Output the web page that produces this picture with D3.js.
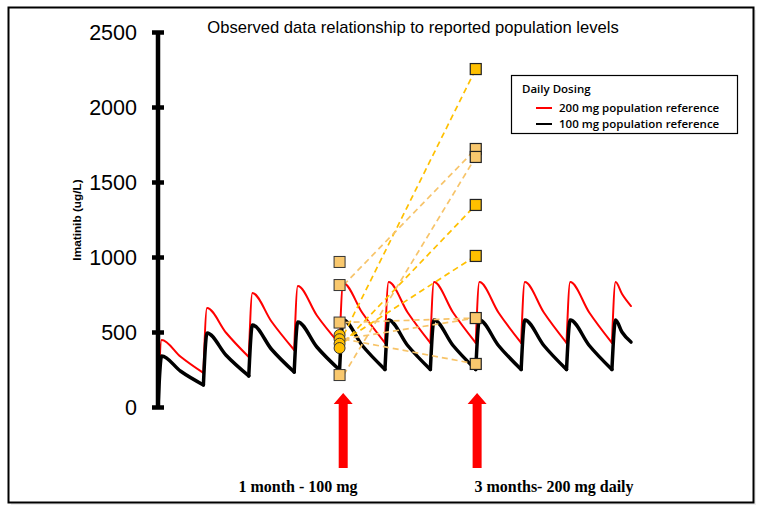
<!DOCTYPE html>
<html>
<head>
<meta charset="utf-8">
<script src="https://cdn.jsdelivr.net/npm/d3@7"></script>
<style>
  html, body { margin: 0; padding: 0; background: #fff; }
  svg { display: block; }
</style>
</head>
<body>
<svg id="chart" width="762" height="512"></svg>
<script>
// ---------------- DATA ----------------
const yTicks = [0, 500, 1000, 1500, 2000, 2500];
// dosing cycles (time in dosing-interval units)
const cycleStart = [0, 1, 2, 3, 4, 5, 6, 7, 8, 9, 10];
// 100 mg population reference (black)
const blackPeak   = [340, 493, 547, 567, 580, 580, 580, 580, 580, 580, 580];
const blackMid    = [238, 345, 385, 400, 410, 410, 410, 410, 410, 410, 500];
const blackTrough = [147, 207, 233, 247, 250, 250, 250, 250, 250, 250, 433];
// 200 mg population reference (red)
const redPeak     = [447, 660, 760, 807, 827, 833, 833, 833, 833, 833, 833];
const redMid      = [335, 495, 570, 610, 628, 630, 630, 630, 630, 630, 755];
const redTrough   = [227, 333, 380, 420, 427, 427, 427, 427, 427, 427, 673];
const endTime = 10.42;

// observed data
const visitTimes = { oneMonth: 4.0, threeMonth: 7.0 };
const oneMonthSquares = [967, 813, 563, 213];
const oneMonthCircles = [480, 452, 422, 393];
const threeMonthSquares = [2253, 1720, 1667, 1347, 1007, 593, 287];
const threeMonthTone    = ["gold", "light", "light", "gold", "gold", "light", "light"];
// patient pairs: 1 month value -> 3 month value
const pairFrom = [480, 813, 213, 427, 440, 563, 453, 453];
const pairTo   = [2253, 1720, 1667, 1347, 1007, 593, 593, 287];

const arrowTimes = [4.08, 7.03];
const arrowLabels = ["1 month - 100 mg", "3 months- 200 mg daily"];
const arrowLabelX = [298, 554];

const legendItems = ["200 mg population reference", "100 mg population reference"];
const legendColors = ["#ff0000", "#000000"];

// ---------------- CHART ----------------
const svg = d3.select("#chart");
const GOLD = "#FFC000", LIGHT = "#F9C86E";

// outer frame
svg.append("rect").attr("x", 11).attr("y", 10).attr("width", 745).attr("height", 495)
  .attr("fill", "#d9d9d9").attr("opacity", 0.5);
svg.append("rect").attr("x", 8.5).attr("y", 7.5).attr("width", 745).attr("height", 495)
  .attr("fill", "#fff").attr("stroke", "#000").attr("stroke-width", 2);

const x = d3.scaleLinear().domain([0, endTime]).range([158, 631]);
const y = d3.scaleLinear().domain([0, 2500]).range([407, 32]);

// title
svg.append("text").attr("x", 413).attr("y", 33).attr("text-anchor", "middle")
  .attr("font-family", "Liberation Sans, Arial, sans-serif").attr("font-size", 16.6)
  .text("Observed data relationship to reported population levels");

// y axis label
svg.append("text").attr("transform", "translate(81,220) rotate(-90)")
  .attr("text-anchor", "middle").attr("font-family", "Liberation Sans, Arial, sans-serif")
  .attr("font-weight", "bold").attr("font-size", 11.8).text("Imatinib  (ug/L)");

// build per-cycle curve segments
function buildCycles(peak, mid, trough) {
  return cycleStart.map((t0, i) => {
    const start = i === 0 ? 0 : trough[i - 1];
    const last = i === cycleStart.length - 1;
    const tEnd = last ? endTime : t0 + 1;
    const tMid = last ? t0 + 0.22 : t0 + 0.5;
    return [[t0, start], [t0 + 0.08, peak[i]], [tMid, mid[i]], [tEnd, trough[i]]];
  });
}
const line = d3.line().x(d => x(d[0])).y(d => y(d[1])).curve(d3.curveMonotoneX);

function drawSeries(cycles, color, width) {
  svg.append("g").selectAll("path").data(cycles).join("path")
    .attr("d", line).attr("fill", "none").attr("stroke", color).attr("stroke-width", width)
    .attr("stroke-linejoin", "round").attr("stroke-linecap", "round");
}
drawSeries(buildCycles(redPeak, redMid, redTrough), "#ff0000", 2);
drawSeries(buildCycles(blackPeak, blackMid, blackTrough), "#000", 3.5);

// y axis
const yAxis = d3.axisLeft(y).tickValues(yTicks).tickFormat(d3.format("d")).tickSize(6).tickPadding(15);
const ag = svg.append("g").attr("transform", "translate(158,0)").call(yAxis);
ag.select(".domain").attr("stroke", "#000").attr("stroke-width", 4.5)
  .attr("d", `M0,${y(2500)}V${y(0)}`);
ag.selectAll(".tick line").attr("x1", -6).attr("x2", 6).attr("stroke", "#000").attr("stroke-width", 4.5);
ag.selectAll(".tick text").attr("font-family", "Liberation Sans, Arial, sans-serif")
  .attr("font-size", 21.5).attr("fill", "#000").attr("dy", "0.36em");

// dashed connection lines
const xa = x(visitTimes.oneMonth) + 4, xb = x(visitTimes.threeMonth);
pairFrom.forEach((v0, i) => {
  const toIdx = threeMonthSquares.indexOf(pairTo[i]);
  const tone = threeMonthTone[toIdx];
  svg.append("line").attr("x1", xa).attr("y1", y(v0)).attr("x2", xb).attr("y2", y(pairTo[i]))
    .attr("stroke", tone === "gold" ? GOLD : "#F7C46A").attr("stroke-width", 1.7)
    .attr("stroke-dasharray", "6,4");
});

// markers
const s = 11;
oneMonthSquares.forEach(v => {
  svg.append("rect").attr("x", x(visitTimes.oneMonth) - s / 2).attr("y", y(v) - s / 2)
    .attr("width", s).attr("height", s).attr("fill", LIGHT).attr("stroke", "#333").attr("stroke-width", 1);
});
oneMonthCircles.forEach(v => {
  svg.append("circle").attr("cx", x(visitTimes.oneMonth)).attr("cy", y(v)).attr("r", 5.5)
    .attr("fill", GOLD).attr("stroke", "#333").attr("stroke-width", 1);
});
threeMonthSquares.forEach((v, i) => {
  svg.append("rect").attr("x", xb - s / 2).attr("y", y(v) - s / 2)
    .attr("width", s).attr("height", s).attr("fill", threeMonthTone[i] === "gold" ? GOLD : LIGHT)
    .attr("stroke", "#222").attr("stroke-width", 1.2);
});

// arrows
arrowTimes.forEach((t, i) => {
  const cx = x(t), tip = y(0) - 14, base = y(0) + 61;
  svg.append("path")
    .attr("d", `M${cx},${tip} L${cx + 9.5},${tip + 11} L${cx + 4.5},${tip + 11} L${cx + 4.5},${base} L${cx - 4.5},${base} L${cx - 4.5},${tip + 11} L${cx - 9.5},${tip + 11} Z`)
    .attr("fill", "#ff0000");
  svg.append("text").attr("x", arrowLabelX[i]).attr("y", 492).attr("text-anchor", "middle")
    .attr("font-family", "Liberation Serif, Times New Roman, serif").attr("font-weight", "bold")
    .attr("font-size", 16).text(arrowLabels[i]);
});

// legend
const lg = svg.append("g").attr("transform", "translate(511,75)");
lg.append("rect").attr("x", 0.5).attr("y", 0.5).attr("width", 226).attr("height", 58)
  .attr("fill", "#fff").attr("stroke", "#000").attr("stroke-width", 1.2);
lg.append("text").attr("x", 11).attr("y", 18).attr("font-family", "Open Sans, sans-serif")
  .attr("font-weight", 600).attr("font-size", 11.5).text("Daily Dosing");
legendItems.forEach((label, i) => {
  const yy = 33 + i * 16;
  lg.append("line").attr("x1", 25).attr("x2", 41).attr("y1", yy).attr("y2", yy)
    .attr("stroke", legendColors[i]).attr("stroke-width", 2);
  lg.append("text").attr("x", 48).attr("y", yy + 4).attr("font-family", "Open Sans, sans-serif")
    .attr("font-weight", 600).attr("font-size", 11.5).text(label);
});
</script>
</body>
</html>
